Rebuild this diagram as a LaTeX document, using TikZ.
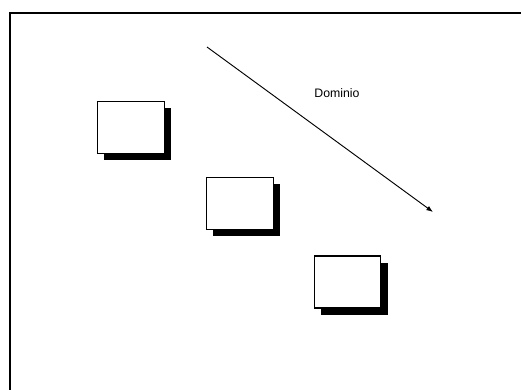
\documentclass[tikz,border=0pt]{standalone}
\usepackage{fontspec}
\setmainfont{Liberation Sans}
\usetikzlibrary{arrows.meta,shadows}

\begin{document}
\begin{tikzpicture}[x=0.03cm,y=-0.03cm,
    ventana/.style={draw=black,line width=1pt,fill=white,
      minimum width=2.0cm,minimum height=1.56cm,inner sep=0pt,
      general shadow={fill=black,shadow xshift=0.2cm,shadow yshift=-0.2cm}}]
  % page size
  \useasboundingbox (0,0) rectangle (521,390);

  % frame (only top and left edges show)
  \draw[line width=1.8pt] (10,390) -- (10,13) -- (521,13);

  % the three windows, stepping down to the right
  \node[ventana] (win1) at (131,127.5) {};
  \node[ventana] (win2) at (240,203.5) {};
  \node[ventana] (win3) at (347.5,282) {};

  % direction of the domain
  \coordinate (domA) at (207,47);
  \coordinate (domB) at (433,212);
  \draw[line width=0.8pt,-{Latex[length=2mm]}] (domA) -- (domB);
  \node[font=\fontsize{10.5}{12}\selectfont] (dom) at (337,93) {Dominio};
\end{tikzpicture}
\end{document}
